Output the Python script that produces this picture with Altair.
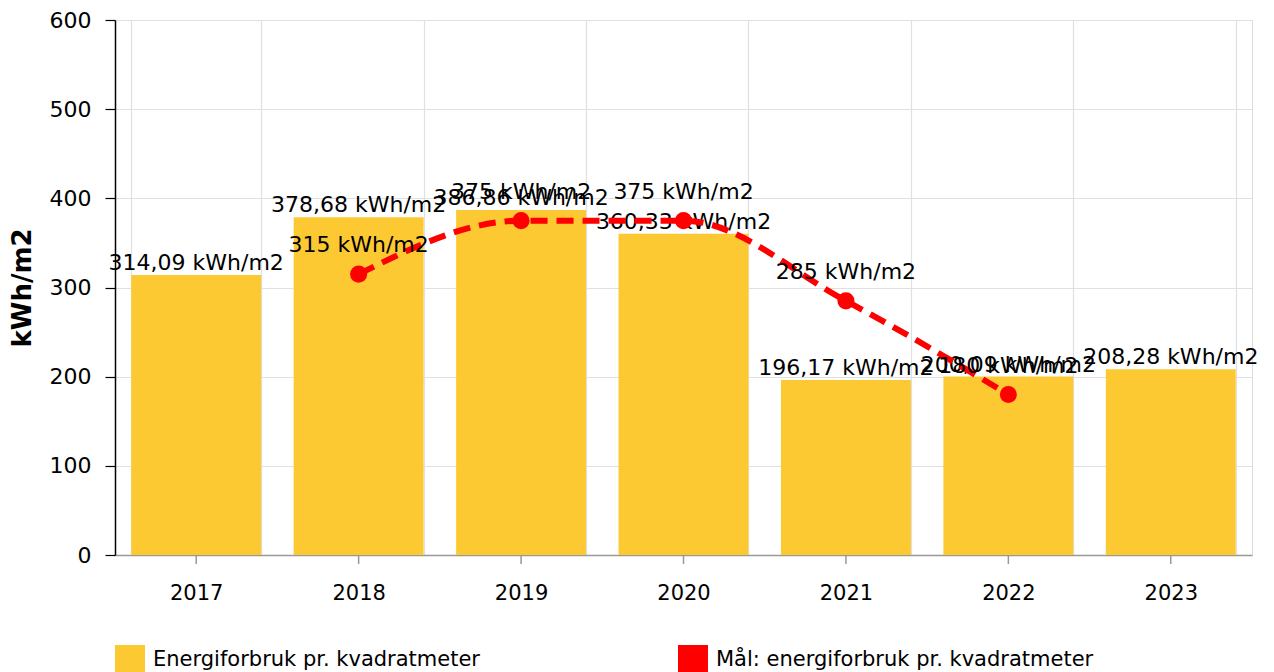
import altair as alt
import pandas as pd

years = ["2017", "2018", "2019", "2020", "2021", "2022", "2023"]
usage = [314.09, 378.68, 386.86, 360.33, 196.17, 200.09, 208.28]
target_years = ["2018", "2019", "2020", "2021", "2022"]
target_values = [315, 375, 375, 285, 180]

bar_name = "Energiforbruk pr. kvadratmeter"
target_name = "Mål: energiforbruk pr. kvadratmeter"

FONT = "DejaVu Sans"
YELLOW = "#FDC933"
RED = "#FF0000"

bars_df = pd.DataFrame({"year": years, "value": usage})
target_df = pd.DataFrame({"year": target_years, "value": target_values})

x_scale = alt.Scale(paddingInner=0.2, paddingOuter=0.1)
y_scale = alt.Scale(domain=[0, 600])
color_scale = alt.Scale(domain=[bar_name, target_name], range=[YELLOW, RED])

x_axis = alt.Axis(
    title=None, grid=True, tickBand="extent", ticks=False,
    labelFontSize=21, labelFont=FONT, labelColor="#000", labelPadding=27,
    labelAngle=0, domainColor="#999999", domainWidth=1.5,
    gridColor="#e0e0e0", gridWidth=1.2,
)
y_axis = alt.Axis(
    title="kWh/m2", titleFontSize=26, titleFont=FONT, titleFontWeight="bold",
    titleColor="#000", titlePadding=14,
    values=[0, 100, 200, 300, 400, 500, 600],
    labelFontSize=22, labelFont=FONT, labelColor="#000", labelPadding=14,
    tickSize=10, tickColor="#000", tickWidth=1.2,
    domainColor="#000", domainWidth=1.5,
    gridColor="#e0e0e0", gridWidth=1.2,
)

legend = alt.Legend(
    title=None, orient="none", legendX=0, legendY=625, direction="horizontal",
    symbolType="square", symbolSize=900, symbolStrokeWidth=0,
    labelFontSize=21, labelFont=FONT, labelColor="#000", labelOffset=8,
    columnPadding=198, padding=0, labelLimit=600,
)

base_bars = alt.Chart(bars_df)

bars = base_bars.mark_bar().transform_calculate(
    series=f"'{bar_name}'"
).encode(
    x=alt.X("year:N", scale=x_scale, axis=x_axis, sort=years),
    y=alt.Y("value:Q", scale=y_scale, axis=y_axis),
    color=alt.Color("series:N", scale=color_scale, legend=legend),
)

bar_text = base_bars.mark_text(
    font=FONT, fontSize=22, color="#000", baseline="alphabetic", dy=-5
).transform_calculate(
    label="replace(format(datum.value, '.2f'), '.', ',') + ' kWh/m2'"
).encode(
    x=alt.X("year:N", sort=years),
    y="value:Q",
    text="label:N",
)

base_t = alt.Chart(target_df)

line = base_t.mark_line(
    color=RED, strokeWidth=6, strokeDash=[17, 9], interpolate="monotone"
).encode(
    x=alt.X("year:N", sort=years),
    y="value:Q",
)

points = base_t.mark_point(filled=True, size=290, opacity=1).transform_calculate(
    series=f"'{target_name}'"
).encode(
    x=alt.X("year:N", sort=years),
    y="value:Q",
    color=alt.Color("series:N", scale=color_scale, legend=legend),
)

point_text = base_t.mark_text(
    font=FONT, fontSize=22, color="#000", baseline="alphabetic", dy=-22
).transform_calculate(
    label="format(datum.value, 'd') + ' kWh/m2'"
).encode(
    x=alt.X("year:N", sort=years),
    y="value:Q",
    text="label:N",
)

ticks = base_bars.mark_rule(color="#999999", strokeWidth=1.5).encode(
    x=alt.X("year:N", sort=years),
    y=alt.value(535),
    y2=alt.value(544),
)

chart = alt.layer(bars, bar_text, line, points, point_text, ticks).properties(
    width=1137, height=535,
    padding={"left": 1, "top": 1, "right": 5, "bottom": 5},
).configure_view(stroke=None).configure(background="white")

chart.save("out.html", embed_options={"renderer": "svg", "actions": False})
